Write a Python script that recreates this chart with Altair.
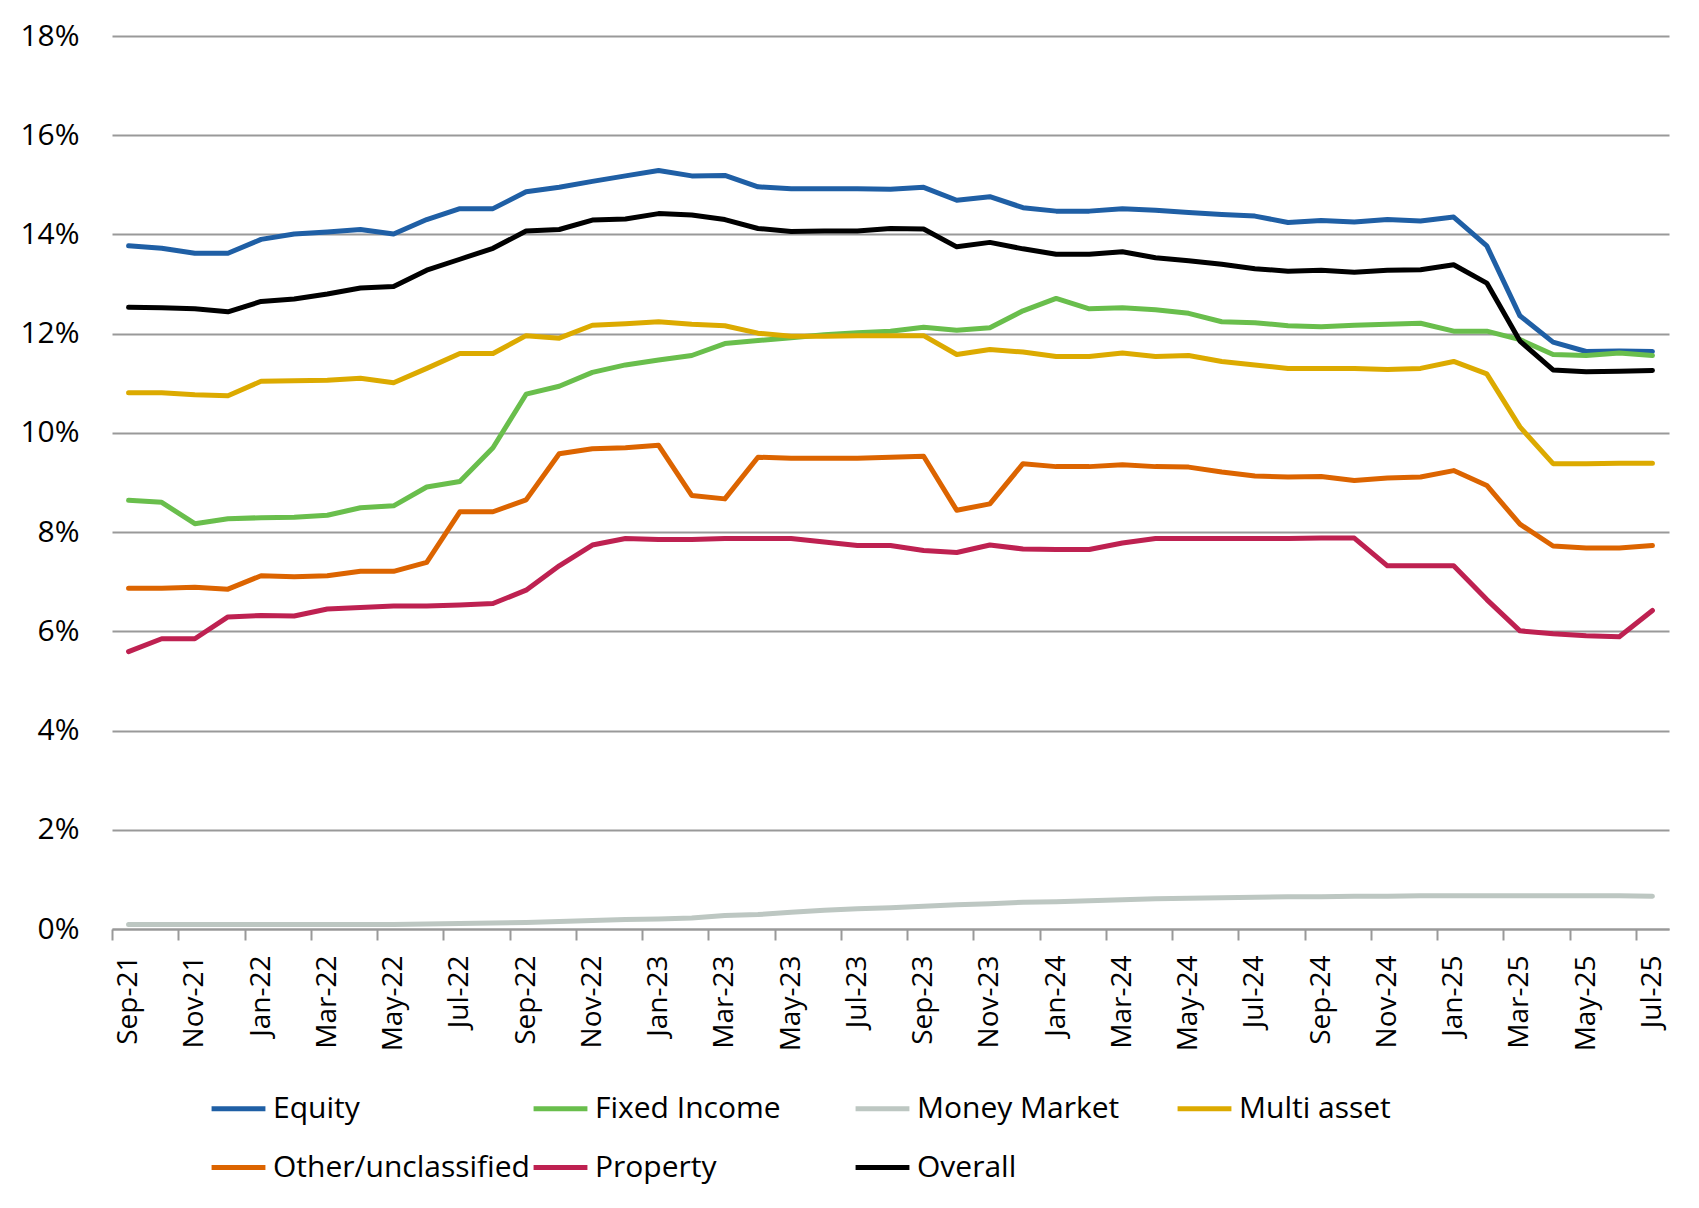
import altair as alt
import pandas as pd

# Monthly categories, Sep-21 .. Jul-25
months = [
    "Sep-21", "Oct-21", "Nov-21", "Dec-21",
    "Jan-22", "Feb-22", "Mar-22", "Apr-22", "May-22", "Jun-22",
    "Jul-22", "Aug-22", "Sep-22", "Oct-22", "Nov-22", "Dec-22",
    "Jan-23", "Feb-23", "Mar-23", "Apr-23", "May-23", "Jun-23",
    "Jul-23", "Aug-23", "Sep-23", "Oct-23", "Nov-23", "Dec-23",
    "Jan-24", "Feb-24", "Mar-24", "Apr-24", "May-24", "Jun-24",
    "Jul-24", "Aug-24", "Sep-24", "Oct-24", "Nov-24", "Dec-24",
    "Jan-25", "Feb-25", "Mar-25", "Apr-25", "May-25", "Jun-25",
    "Jul-25",
]

# values in %
equity = [13.77, 13.72, 13.62, 13.62, 13.90, 14.01, 14.05, 14.10, 14.01, 14.30,
          14.52, 14.52, 14.86, 14.95, 15.07, 15.18, 15.29, 15.18, 15.19, 14.96,
          14.92, 14.92, 14.92, 14.91, 14.95, 14.69, 14.76, 14.54, 14.47, 14.47,
          14.52, 14.49, 14.44, 14.40, 14.37, 14.24, 14.28, 14.25, 14.30, 14.27,
          14.35, 13.77, 12.36, 11.83, 11.64, 11.65, 11.64]
fixed_income = [8.64, 8.60, 8.17, 8.27, 8.29, 8.30, 8.34, 8.49, 8.53, 8.91,
                9.02, 9.70, 10.78, 10.94, 11.22, 11.37, 11.47, 11.56, 11.80, 11.86,
                11.92, 11.98, 12.02, 12.05, 12.13, 12.07, 12.12, 12.46, 12.71, 12.50,
                12.52, 12.48, 12.41, 12.24, 12.22, 12.16, 12.14, 12.17, 12.19, 12.21,
                12.05, 12.05, 11.88, 11.58, 11.56, 11.61, 11.56]
money_market = [0.09, 0.09, 0.09, 0.09, 0.09, 0.09, 0.09, 0.09, 0.09, 0.10,
                0.11, 0.12, 0.13, 0.15, 0.17, 0.19, 0.20, 0.22, 0.27, 0.29,
                0.34, 0.38, 0.41, 0.43, 0.46, 0.49, 0.51, 0.54, 0.55, 0.57,
                0.59, 0.61, 0.62, 0.63, 0.64, 0.65, 0.65, 0.66, 0.66, 0.67,
                0.67, 0.67, 0.67, 0.67, 0.67, 0.67, 0.66]
multi_asset = [10.81, 10.81, 10.77, 10.75, 11.04, 11.05, 11.06, 11.10, 11.01, 11.30,
               11.60, 11.60, 11.96, 11.91, 12.17, 12.20, 12.24, 12.19, 12.16, 12.01,
               11.95, 11.95, 11.96, 11.96, 11.96, 11.58, 11.68, 11.63, 11.54, 11.54,
               11.61, 11.54, 11.56, 11.44, 11.37, 11.30, 11.30, 11.30, 11.28, 11.30,
               11.44, 11.19, 10.12, 9.38, 9.38, 9.39, 9.39]
other = [6.87, 6.87, 6.89, 6.85, 7.12, 7.10, 7.12, 7.21, 7.21, 7.39,
         8.41, 8.41, 8.65, 9.58, 9.68, 9.70, 9.75, 8.74, 8.67, 9.51,
         9.49, 9.49, 9.49, 9.51, 9.53, 8.44, 8.57, 9.38, 9.32, 9.32,
         9.36, 9.32, 9.31, 9.21, 9.13, 9.11, 9.12, 9.04, 9.09, 9.11,
         9.24, 8.94, 8.16, 7.72, 7.68, 7.68, 7.73]
property_ = [5.59, 5.85, 5.85, 6.29, 6.32, 6.31, 6.45, 6.48, 6.51, 6.51,
             6.53, 6.56, 6.83, 7.32, 7.74, 7.87, 7.85, 7.85, 7.87, 7.87,
             7.87, 7.80, 7.73, 7.73, 7.63, 7.59, 7.74, 7.66, 7.65, 7.65,
             7.78, 7.87, 7.87, 7.87, 7.87, 7.87, 7.88, 7.88, 7.32, 7.32,
             7.32, 6.64, 6.01, 5.95, 5.91, 5.89, 6.42]
overall = [12.53, 12.52, 12.50, 12.44, 12.65, 12.70, 12.80, 12.92, 12.95, 13.28,
           13.50, 13.72, 14.07, 14.10, 14.29, 14.31, 14.42, 14.39, 14.30, 14.12,
           14.06, 14.07, 14.07, 14.12, 14.11, 13.75, 13.84, 13.71, 13.60, 13.60,
           13.65, 13.53, 13.47, 13.40, 13.31, 13.26, 13.28, 13.24, 13.28, 13.29,
           13.39, 13.02, 11.85, 11.27, 11.23, 11.24, 11.26]

series_names = ["Equity", "Fixed Income", "Money Market", "Multi asset",
                "Other/unclassified", "Property", "Overall"]
series_values = [equity, fixed_income, money_market, multi_asset,
                 other, property_, overall]
colors = ["#1F5FA5", "#69BE4C", "#BDC7C2", "#DCAA00",
          "#DC6400", "#BE2151", "#000000"]

rows = []
for name, vals in zip(series_names, series_values):
    for i, v in enumerate(vals):
        rows.append({"series": name, "idx": i, "month": months[i], "value": v})
df = pd.DataFrame(rows)

FONT = "Open Sans"
W, H = 1557, 893
half_cat = W / len(months) / 2

label_expr = "[" + ",".join("'%s'" % m for m in months) + "][datum.value]"

chart = alt.Chart(df).mark_line(strokeWidth=5, strokeCap="round", strokeJoin="round").encode(
    x=alt.X("idx:Q",
            scale=alt.Scale(domain=[-0.5, len(months) - 0.5], nice=False, zero=False),
            axis=alt.Axis(values=list(range(0, len(months), 2)), labelExpr=label_expr,
                          tickOffset=-half_cat, labelOffset=half_cat,
                          labelAngle=270, labelAlign="right", labelBaseline="middle",
                          labelFontSize=28, labelPadding=15, tickSize=11, tickWidth=2,
                          tickColor="#999999", domainColor="#999999", domainWidth=2,
                          grid=False, title=None)),
    y=alt.Y("value:Q",
            scale=alt.Scale(domain=[0, 18], nice=False),
            axis=alt.Axis(values=list(range(0, 19, 2)), labelExpr="datum.value + '%'",
                          grid=True, gridColor="#999999", gridWidth=2,
                          domain=False, ticks=False, labelPadding=33, title=None)),
    color=alt.Color("series:N",
                    scale=alt.Scale(domain=series_names, range=colors),
                    legend=alt.Legend(orient="none", legendX=97, legendY=1043,
                                      direction="horizontal", columns=4, gridAlign="all",
                                      columnPadding=-7, rowPadding=14,
                                      symbolType="stroke", symbolSize=2900,
                                      symbolStrokeWidth=5, labelOffset=5, labelLimit=500,
                                      labelFontSize=30, labelFont=FONT, labelColor="black",
                                      title=None)),
    detail="series:N",
).properties(
    width=W,
    height=H,
    autosize=alt.AutoSizeParams(type="none"),
    padding={"left": 104, "top": 28, "right": 22, "bottom": 279},
).configure_axis(
    labelFont=FONT, labelFontSize=30, labelColor="black"
).configure_view(
    strokeWidth=0
)

chart.save("out.html", embed_options={"renderer": "svg", "actions": False})
